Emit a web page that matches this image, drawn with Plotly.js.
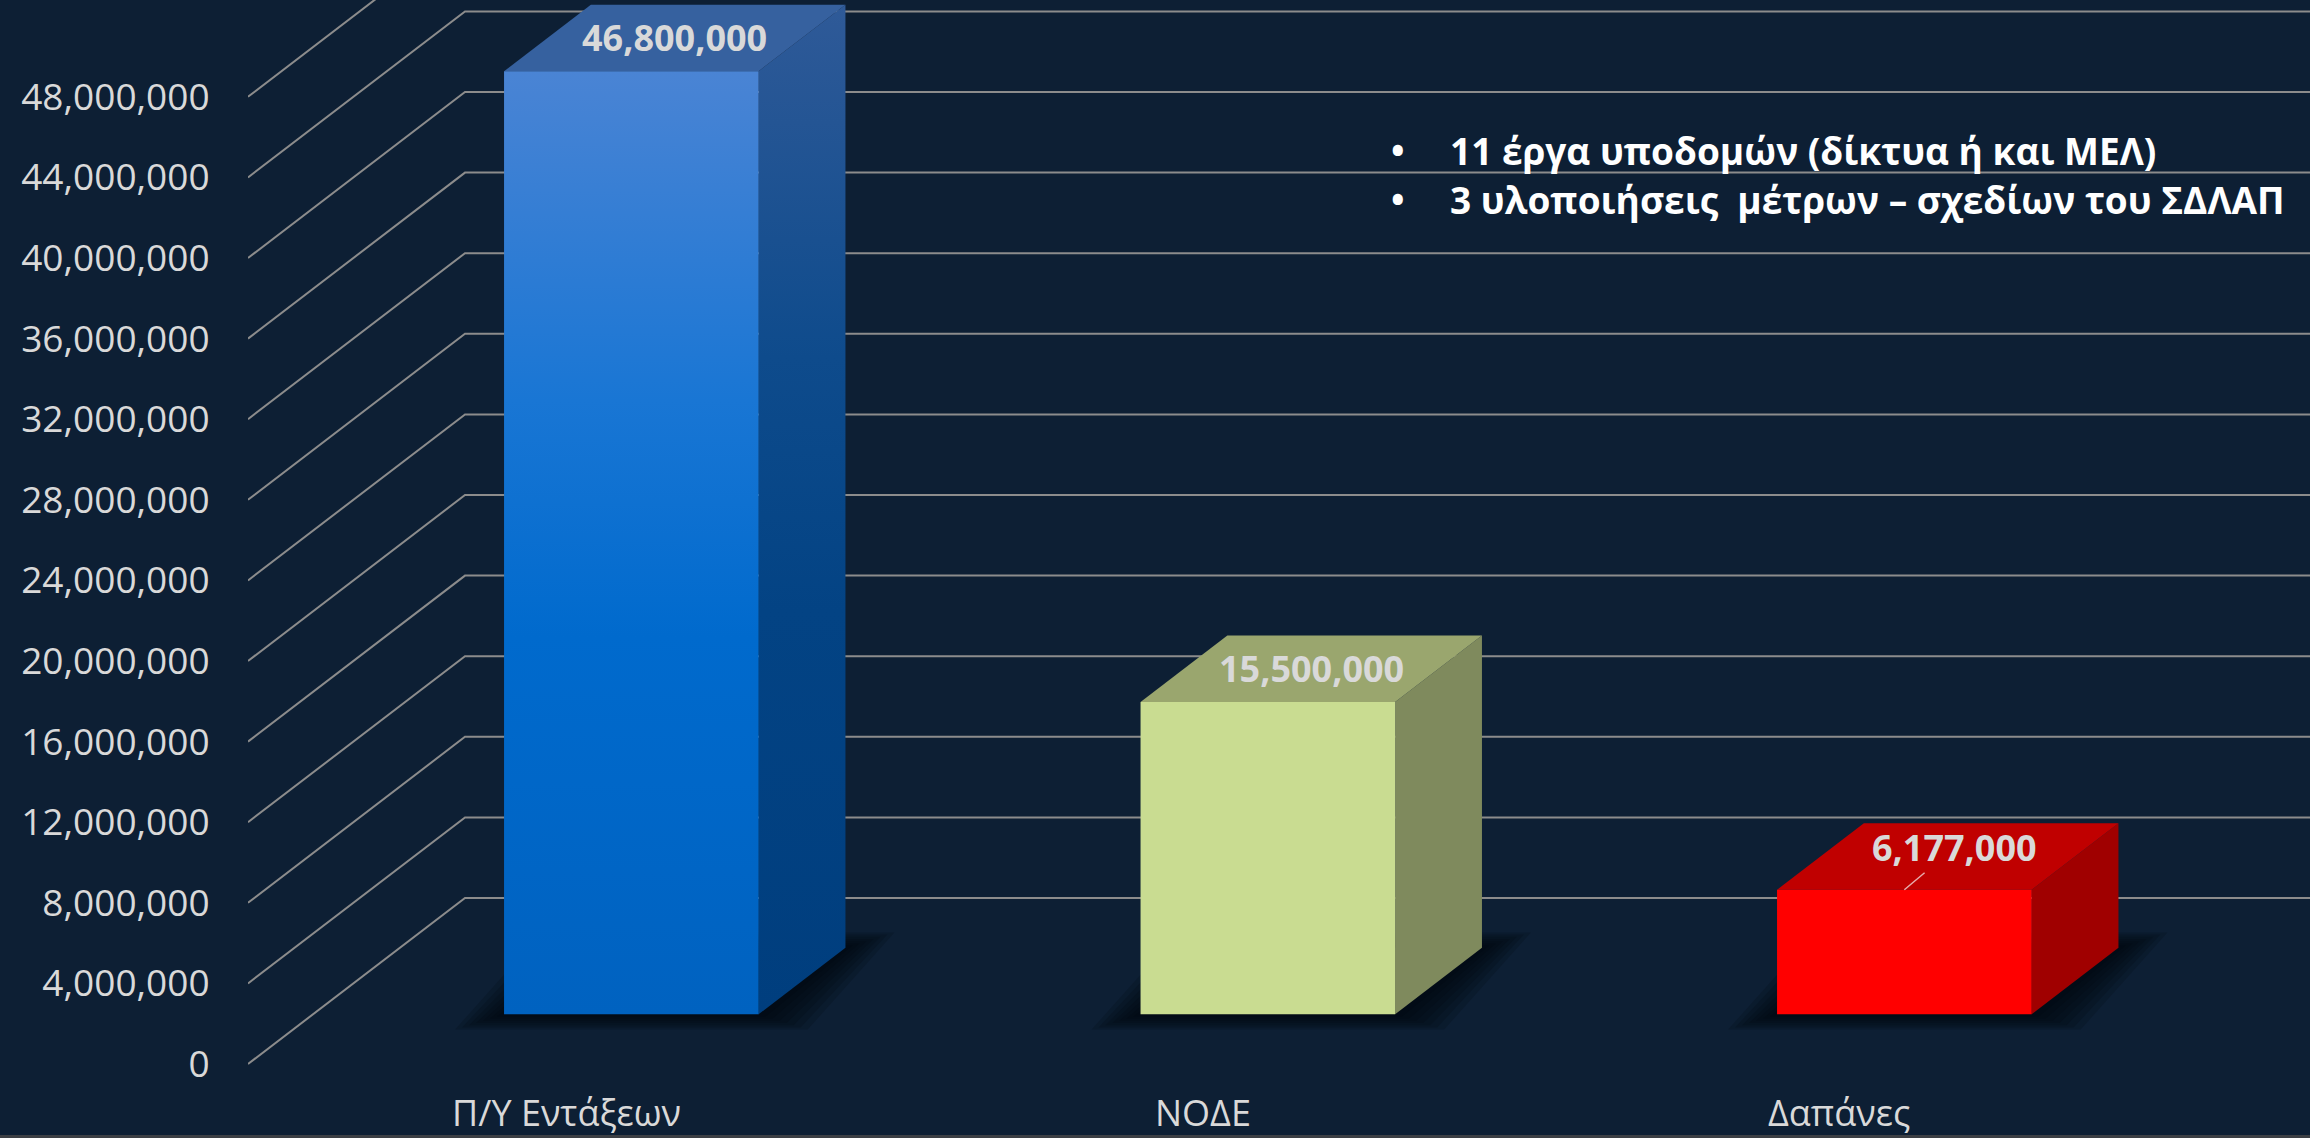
<!DOCTYPE html>
<html>
<head>
<meta charset="utf-8">
<script src="https://cdn.plot.ly/plotly-3.0.1.min.js"></script>
<style>
html,body{margin:0;padding:0;background:#0d1f34;overflow:hidden}
#chart{width:2310px;height:1138px}
</style>
</head>
<body>
<div id="chart"></div>
<script>
// ---------- DATA ----------
const categories = ['Π/Υ Εντάξεων', 'ΝΟΔΕ', 'Δαπάνες'];
const values = [46800000, 15500000, 6177000];
const yTicks = [0, 4000000, 8000000, 12000000, 16000000, 20000000, 24000000,
                28000000, 32000000, 36000000, 40000000, 44000000, 48000000];
const noteLines = ['11 έργα υποδομών (δίκτυα ή και ΜΕΛ)',
                   '3 υλοποιήσεις\u00a0 μέτρων – σχεδίων του ΣΔΛΑΠ'];

// ---------- STYLE / GEOMETRY ----------
const W = 2310, H = 1138, L = 248;
const BG = '#0d1f34';
const TXT = '#d9d9d9';
const FONT = 'Open Sans, Noto Sans, DejaVu Sans, sans-serif';
const PX_PER_CAT = 636.5;            // pixels per category
const PX_PER_UNIT = 20.15 / 1e6;     // pixels per value unit
const FRONT_ZERO_PX = 1064;          // pixel row of value 0 on front plane
const xMin = -0.5, xMax = xMin + (W - L) / PX_PER_CAT;
const yMax = FRONT_ZERO_PX / PX_PER_UNIT, yMin = -(H - FRONT_ZERO_PX) / PX_PER_UNIT;
const dX = 217 / PX_PER_CAT, dY = 166 / PX_PER_UNIT;   // full depth of the 3D box
const BAR_W = 0.4, D0 = 0.3, D1 = 0.7;                 // bar width & depth band
const pxX = p => p / PX_PER_CAT, pxY = p => p / PX_PER_UNIT;
const paperX = p => (p - L) / (W - L), paperY = p => (H - p) / H;

const barStyles = [
  { front: [[0,'#0062c0'],[0.4,'#006acd'],[0.65,'#1976d4'],[1,'#4a84d4']],
    side:  [[0,'#003e7e'],[0.4,'#034384'],[0.65,'#0e4b8c'],[1,'#2f5a98']],
    top: '#36619f' },
  { front: [[0,'#c9dc91'],[1,'#c9dc91']],
    side:  [[0,'#7f8a5d'],[1,'#7f8a5d']],
    top: '#9aa66e' },
  { front: [[0,'#ff0000'],[1,'#ff0000']],
    side:  [[0,'#a00000'],[1,'#a00000']],
    top: '#c00000' }
];
const labelTailOffset = [null, null, [50, -42]];

const traces = [];

// ---------- GRIDLINES (left wall diagonals + back wall horizontals) ----------
const gx = [], gy = [];
yTicks.forEach(t => {
  gx.push(xMin, xMin + dX, xMax + 1, null);
  gy.push(t, t + dY, t + dY, null);
});
traces.push({ type: 'scatter', mode: 'lines', x: gx, y: gy,
  line: { color: '#8c8c8c', width: 2 }, hoverinfo: 'skip', connectgaps: false });

// ---------- BARS ----------
const geom = values.map((v, i) => {
  const xl = i - BAR_W / 2 + D0 * dX, xr = xl + BAR_W;
  const b = D0 * dY, t = b + v;
  const ddx = (D1 - D0) * dX, ddy = (D1 - D0) * dY;
  return { xl, xr, b, t, ddx, ddy, v, i };
});

// soft shadows around each bar footprint
geom.forEach(g => {
  for (let k = 7; k >= 1; k--) {
    const ex = pxX(7 * k), ey = pxY(2.2 * k);
    traces.push({ type: 'scatter', mode: 'lines', fill: 'toself',
      x: [g.xl - ex, g.xr + ex, g.xr + g.ddx + ex, g.xl + g.ddx - ex, g.xl - ex],
      y: [g.b - ey, g.b - ey, g.b + g.ddy + ey, g.b + g.ddy + ey, g.b - ey],
      line: { width: 0 }, fillcolor: 'rgba(2,6,12,0.16)', hoverinfo: 'skip' });
  }
});

geom.forEach(g => {
  const s = barStyles[g.i];
  // side face
  traces.push({ type: 'scatter', mode: 'lines', fill: 'toself',
    x: [g.xr, g.xr + g.ddx, g.xr + g.ddx, g.xr, g.xr],
    y: [g.b, g.b + g.ddy, g.t + g.ddy, g.t, g.b],
    line: { width: 0 },
    fillgradient: { type: 'vertical', colorscale: s.side, start: g.b, stop: g.t + g.ddy },
    hoverinfo: 'skip' });
  // top face
  traces.push({ type: 'scatter', mode: 'lines', fill: 'toself',
    x: [g.xl, g.xr, g.xr + g.ddx, g.xl + g.ddx, g.xl],
    y: [g.t, g.t, g.t + g.ddy, g.t + g.ddy, g.t],
    line: { width: 0 }, fillcolor: s.top, hoverinfo: 'skip' });
  // front face
  traces.push({ type: 'scatter', mode: 'lines', fill: 'toself',
    x: [g.xl, g.xr, g.xr, g.xl, g.xl],
    y: [g.b, g.b, g.t, g.t, g.b],
    line: { width: 0 },
    fillgradient: { type: 'vertical', colorscale: s.front, start: g.b, stop: g.t },
    hoverinfo: 'skip' });
});

// ---------- ANNOTATIONS ----------
const annotations = [];
// data labels
geom.forEach(g => {
  const txt = g.v.toLocaleString('en-US');
  const off = labelTailOffset[g.i];
  if (off) {
    annotations.push({ xref: 'x', yref: 'y', x: (g.xl + g.xr) / 2, y: g.t,
      text: txt, showarrow: true, arrowhead: 0, arrowwidth: 1.5, standoff: 0,
      arrowcolor: 'rgba(235,190,190,0.9)', ax: off[0], ay: off[1], borderpad: 0,
      font: { family: FONT, size: 36, color: TXT, weight: 700 } });
  } else {
    annotations.push({ xref: 'x', yref: 'y', x: (g.xl + g.xr) / 2 + g.ddx / 2,
      y: g.t + g.ddy / 2, text: txt, showarrow: false, borderpad: 0,
      xanchor: 'center', yanchor: 'middle',
      font: { family: FONT, size: 36, color: TXT, weight: 700 } });
  }
});
// category labels on the front edge of the floor
categories.forEach((c, i) => {
  annotations.push({ xref: 'x', yref: 'paper', x: i, y: paperY(1112), text: c,
    showarrow: false, xanchor: 'center', yanchor: 'middle', borderpad: 0,
    font: { family: FONT, size: 36, color: TXT } });
});
// bullet notes
const noteRows = [150, 200];
noteLines.forEach((t, k) => {
  annotations.push({ xref: 'paper', yref: 'paper', x: paperX(1398), y: paperY(noteRows[k]),
    text: '•', showarrow: false, xanchor: 'center', yanchor: 'middle', borderpad: 0,
    font: { family: FONT, size: 36, color: '#ffffff', weight: 700 } });
  annotations.push({ xref: 'paper', yref: 'paper', x: paperX(1449), y: paperY(noteRows[k]),
    text: t, showarrow: false, xanchor: 'left', yanchor: 'middle', borderpad: 0,
    font: { family: FONT, size: 37, color: '#ffffff', weight: 700 } });
});

const layout = {
  width: W, height: H,
  margin: { l: L, r: 0, t: 0, b: 0, pad: 0 },
  paper_bgcolor: BG, plot_bgcolor: BG,
  showlegend: false,
  xaxis: { range: [xMin, xMax], visible: false, fixedrange: true },
  yaxis: { range: [yMin, yMax], tickvals: yTicks, tickformat: ',d',
    showgrid: false, zeroline: false, showline: false,
    ticks: 'outside', ticklen: 30, tickcolor: 'rgba(0,0,0,0)',
    tickfont: { family: FONT, size: 37, color: TXT }, fixedrange: true },
  annotations: annotations,
  shapes: [{ type: 'rect', xref: 'paper', yref: 'paper',
    x0: -L / (W - L), x1: 1, y0: 0, y1: 3 / H,
    fillcolor: '#3c3f44', line: { width: 0 }, layer: 'below' }]
};

Plotly.newPlot('chart', traces, layout, { displayModeBar: false, staticPlot: true });
</script>
</body>
</html>
